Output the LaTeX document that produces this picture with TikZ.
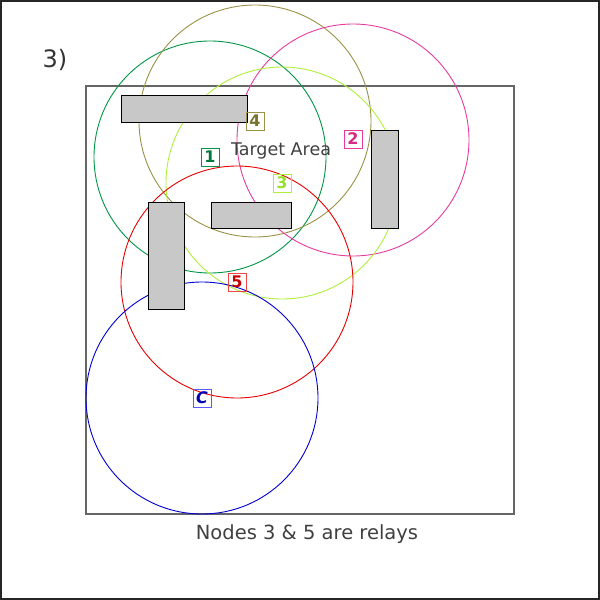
\documentclass[tikz,border=0pt]{standalone}
\usepackage{fontspec}
\setmainfont{DejaVu Sans}
\definecolor{cgreen}{RGB}{0,150,70}
\definecolor{cgreenT}{RGB}{0,120,60}
\definecolor{colive}{RGB}{155,145,70}
\definecolor{coliveT}{RGB}{120,115,40}
\definecolor{cmag}{RGB}{230,60,160}
\definecolor{cmagT}{RGB}{215,40,130}
\definecolor{cyg}{RGB}{175,240,60}
\definecolor{cygT}{RGB}{150,225,45}
\definecolor{cred}{RGB}{230,0,0}
\definecolor{credB}{RGB}{240,70,70}
\definecolor{credT}{RGB}{200,0,0}
\definecolor{cblue}{RGB}{0,0,210}
\definecolor{cblueB}{RGB}{90,90,255}
\definecolor{cblueT}{RGB}{0,0,180}
\definecolor{wall}{RGB}{200,200,200}
\tikzset{
  range/.style={circle, draw=#1, line width=0.9pt, minimum size=232pt, inner sep=0pt},
  lbl/.style={draw=#1, line width=0.9pt, minimum size=18pt, inner sep=0pt, font=\bfseries\fontsize{16}{16}\selectfont},
  wallbox/.style={draw=black, fill=wall, line width=1pt},
  frame/.style={draw=black!60, line width=1.2pt},
}
\begin{document}
\begin{tikzpicture}[x=1pt,y=-1pt]
\useasboundingbox (0,0) rectangle (600,600);
\draw[black!85, line width=2pt] (1,1) rectangle (599,599);
\node[font=\fontsize{24}{24}\selectfont, text=black!80] (title) at (55,60) {3)};
\draw[frame] (86,86) rectangle (514,514);
% coverage circles
\node[range=cgreen] (c1) at (210,157) {};
\node[range=colive] (c4) at (255,121) {};
\node[range=cmag] (c2) at (353,140) {};
\node[range=cyg] (c3) at (282,183) {};
\node[range=cred] (c5) at (237,282) {};
\node[range=cblue] (cc) at (202,398) {};
% walls
\draw[wallbox] (121,95) rectangle (247,122);
\draw[wallbox] (148,202) rectangle (184,309);
\draw[wallbox] (211,202) rectangle (291,228);
\draw[wallbox] (371,130) rectangle (398,228);
% labels
\node[lbl=cgreen, text=cgreenT] (l1) at (c1.center) {1};
\node[lbl=colive, text=coliveT] (l4) at (c4.center) {4};
\node[lbl=cmag, text=cmagT] (l2) at (353,139) {2};
\node[lbl=cyg, text=cygT] (l3) at (c3.center) {3};
\node[lbl=credB, text=credT] (l5) at (c5.center) {5};
\node[lbl=cblueB, text=cblueT] (lc) at (cc.center) {\itshape C};
\node[font=\fontsize{17.5}{17.5}\selectfont, text=black!75] (ta) at (281,151) {Target Area};
\node[font=\fontsize{19.5}{19.5}\selectfont, text=black!75] (cap) at (307,534) {Nodes 3 \& 5 are relays};
\end{tikzpicture}
\end{document}
